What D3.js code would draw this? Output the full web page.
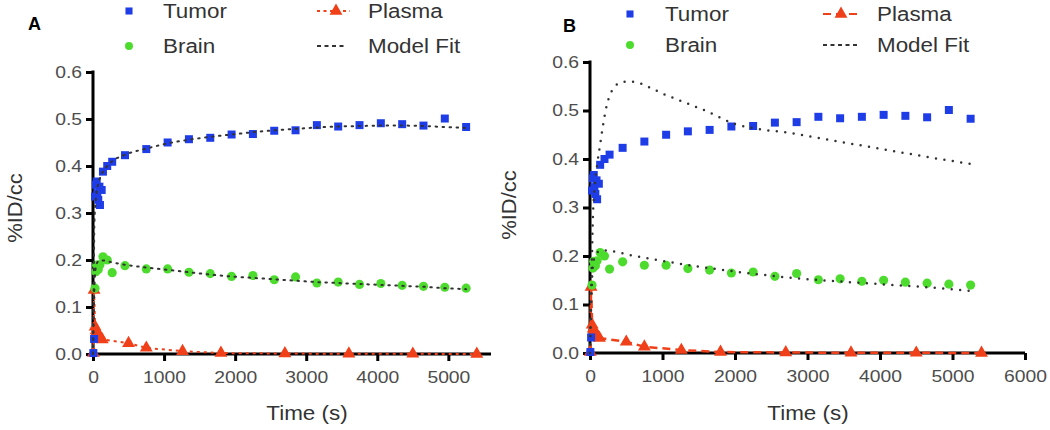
<!DOCTYPE html>
<html>
<head>
<meta charset="utf-8">
<script src="https://cdn.jsdelivr.net/npm/d3@7"></script>
<style>
  html, body { margin: 0; padding: 0; background: #fff; }
  svg text { font-family: "Liberation Sans", Arial, Helvetica, sans-serif; }
</style>
</head>
<body>
<svg id="chart" width="1050" height="430"></svg>
<script>
// ---------- data (shared measurements) ----------
const tumorTime   = [5, 15, 28, 40, 52, 60, 74, 90, 98, 122, 140, 200, 270, 450, 750, 1050, 1350, 1650, 1950, 2250, 2550, 2850, 3150, 3450, 3750, 4050, 4350, 4650, 4950, 5250];
const tumorValues = [0.002, 0.032, 0.335, 0.36, 0.367, 0.342, 0.328, 0.356, 0.317, 0.349, 0.388, 0.4, 0.409, 0.423, 0.436, 0.45, 0.457, 0.46, 0.467, 0.468, 0.475, 0.476, 0.487, 0.484, 0.487, 0.491, 0.489, 0.486, 0.501, 0.483];

const brainTime   = [28, 40, 52, 74, 98, 140, 200, 270, 450, 750, 1050, 1350, 1650, 1950, 2250, 2550, 2850, 3150, 3450, 3750, 4050, 4350, 4650, 4950, 5250];
const brainValues = [0.14, 0.175, 0.189, 0.18, 0.19, 0.207, 0.2, 0.173, 0.188, 0.181, 0.181, 0.174, 0.171, 0.165, 0.167, 0.158, 0.164, 0.151, 0.153, 0.148, 0.15, 0.146, 0.144, 0.142, 0.14];

const plasmaTime   = [5, 15, 30, 45, 60, 75, 90, 110, 130, 500, 750, 1260, 1800, 2700, 3600, 4500, 5400];
const plasmaValues = [0.002, 0.136, 0.058, 0.05, 0.045, 0.041, 0.038, 0.034, 0.031, 0.023, 0.013, 0.006, 0.002, 0.001, 0.0005, 0.0003, 0.0002];

// model fits, panel A
const fitATime  = [0, 10, 20, 40, 70, 100, 140, 200, 270, 450, 750, 1050, 1350, 1650, 1950, 2250, 2550, 2850, 3150, 3450, 3750, 4050, 4350, 4650, 4950, 5250];
const fitATumor = [0, 0.15, 0.28, 0.33, 0.36, 0.375, 0.388, 0.4, 0.41, 0.424, 0.437, 0.448, 0.456, 0.462, 0.467, 0.472, 0.476, 0.479, 0.482, 0.484, 0.485, 0.486, 0.486, 0.485, 0.483, 0.481];
const fitABrain = [0, 0.08, 0.14, 0.185, 0.197, 0.199, 0.199, 0.197, 0.195, 0.19, 0.184, 0.179, 0.174, 0.169, 0.165, 0.162, 0.159, 0.156, 0.153, 0.151, 0.149, 0.147, 0.145, 0.143, 0.14, 0.138];

// model fits, panel B
const fitBTime  = [0, 20, 40, 70, 100, 140, 180, 230, 300, 400, 520, 650, 800, 1000, 1200, 1400, 1600, 1800, 2000, 2200, 2400, 2700, 3200, 3700, 4200, 4700, 5250];
const fitBTumor = [0, 0.15, 0.28, 0.35, 0.39, 0.43, 0.47, 0.51, 0.54, 0.556, 0.56, 0.558, 0.549, 0.535, 0.523, 0.511, 0.499, 0.485, 0.472, 0.465, 0.46, 0.455, 0.442, 0.429, 0.416, 0.403, 0.39];
const fitBBrain = [0, 0.12, 0.18, 0.2, 0.207, 0.211, 0.212, 0.211, 0.21, 0.207, 0.203, 0.199, 0.195, 0.19, 0.185, 0.18, 0.176, 0.172, 0.168, 0.164, 0.161, 0.156, 0.15, 0.145, 0.14, 0.135, 0.128];

const yTicks  = [0, 0.1, 0.2, 0.3, 0.4, 0.5, 0.6];
const xTicksA = [0, 1000, 2000, 3000, 4000, 5000];
const xTicksB = [0, 1000, 2000, 3000, 4000, 5000, 6000];
const legendLabels = ["Tumor", "Brain", "Plasma", "Model Fit"];

// ---------- styling ----------
const C = { tumor: "#1f3de6", brain: "#4ddc2e", plasma: "#f0401a", fit: "#333333", tick: "#4d4d4d", label: "#333333" };

const svg = d3.select("#chart");
svg.append("rect").attr("width", 1050).attr("height", 430).attr("fill", "#fff");

function stretch(sel, k) {
  sel.each(function() {
    const w = this.getComputedTextLength();
    this.setAttribute("textLength", w * k);
    this.setAttribute("lengthAdjust", "spacingAndGlyphs");
  });
}

const sq = d3.symbol().type(d3.symbolSquare).size(64);
const ci = d3.symbol().type(d3.symbolCircle).size(66);
const tr = d3.symbol().type(d3.symbolTriangle).size(72);
const sqL = d3.symbol().type(d3.symbolSquare).size(50);
const ciL = d3.symbol().type(d3.symbolCircle).size(50);

function panel(cfg) {
  const x = d3.scaleLinear().domain(cfg.xDomain).range(cfg.xRange);
  const y = d3.scaleLinear().domain([0, 0.6]).range(cfg.yRange);
  const g = svg.append("g");

  // axes
  const ax = g.append("g").attr("transform", `translate(0,${y(0)})`)
    .call(d3.axisBottom(x).tickValues(cfg.xTicks).tickFormat(d3.format("d")).tickSizeOuter(0).tickSize(7).tickPadding(cfg.xPad));
  const ay = g.append("g").attr("transform", `translate(${x(0)},0)`)
    .call(d3.axisLeft(y).tickValues(yTicks).tickFormat(d3.format(".1f")).tickSizeOuter(0).tickSize(7).tickPadding(4));
  [ax, ay].forEach(a => {
    a.select(".domain").attr("stroke", "#000").attr("stroke-width", 3);
    a.selectAll(".tick line").attr("stroke", "#000").attr("stroke-width", 3);
    a.selectAll(".tick text").attr("fill", C.tick).style("font-size", "16.5px");
  });
  ax.select(".domain").attr("d", `M${cfg.xRange[0] - 1.5},0H${cfg.xRange[1]}`);
  ay.select(".domain").attr("d", `M0,${y(0.6) - 1.5}V${y(0) + 1.5}`);
  stretch(ax.selectAll(".tick text"), 1.17);
  stretch(ay.selectAll(".tick text"), 1.17);

  // plasma connecting line
  const plasmaPts = plasmaTime.map((t, i) => [t, plasmaValues[i]]);
  const line = d3.line().x(d => x(d[0])).y(d => y(d[1]));
  g.append("path").attr("d", line(plasmaPts)).attr("fill", "none")
    .attr("stroke", C.plasma).attr("stroke-width", cfg.plasmaW).attr("stroke-dasharray", cfg.plasmaDash);

  // markers
  g.selectAll(".pl").data(plasmaPts).join("path")
    .attr("transform", d => `translate(${x(d[0])},${y(d[1])})`).attr("d", tr).attr("fill", C.plasma);
  g.selectAll(".br").data(brainTime.map((t, i) => [t, brainValues[i]])).join("path")
    .attr("transform", d => `translate(${x(d[0])},${y(d[1])})`).attr("d", ci).attr("fill", C.brain);
  g.selectAll(".tu").data(tumorTime.map((t, i) => [t, tumorValues[i]])).join("path")
    .attr("transform", d => `translate(${x(d[0])},${y(d[1])})`).attr("d", sq).attr("fill", C.tumor);

  // model fits
  const fitLine = d3.line().curve(d3.curveMonotoneX).x(d => x(d[0])).y(d => y(d[1]));
  [cfg.fitTumor, cfg.fitBrain].forEach(vals => {
    g.append("path").attr("d", fitLine(cfg.fitTime.map((t, i) => [t, vals[i]])))
      .attr("fill", "none").attr("stroke", C.fit).attr("stroke-width", cfg.fitW)
      .attr("stroke-linecap", "round").attr("stroke-dasharray", cfg.fitDash);
  });

  // axis labels
  const xl = g.append("text").attr("x", cfg.xLabelX).attr("y", 420).attr("text-anchor", "middle")
    .attr("fill", C.label).style("font-size", "20px").text("Time (s)");
  stretch(xl, 1.12);
  const yl = g.append("text").attr("transform", `translate(${cfg.yLabelX},${cfg.yLabelY}) rotate(-90)`)
    .attr("text-anchor", "middle").attr("fill", C.label).style("font-size", "20px").text("%ID/cc");
  stretch(yl, 1.1);

  // panel letter
  g.append("text").attr("x", cfg.letter[0]).attr("y", cfg.letter[1]).attr("fill", "#000")
    .style("font-size", "18px").style("font-weight", "bold").text(cfg.name);

  // legend
  const L = cfg.legend;
  const lg = g.append("g");
  lg.append("path").attr("transform", `translate(${L.mx},${L.y1})`).attr("d", sqL).attr("fill", C.tumor);
  lg.append("path").attr("transform", `translate(${L.mx},${L.y2})`).attr("d", ciL).attr("fill", C.brain);
  lg.append("line").attr("x1", L.lx0).attr("x2", L.lx1).attr("y1", L.y1).attr("y2", L.y1)
    .attr("stroke", C.plasma).attr("stroke-width", 2.2).attr("stroke-dasharray", cfg.legPlasmaDash);
  lg.append("path").attr("transform", `translate(${L.tx},${L.y1})`).attr("d", tr).attr("fill", C.plasma);
  lg.append("line").attr("x1", L.lx0).attr("x2", L.lx1 - 3).attr("y1", L.y2).attr("y2", L.y2)
    .attr("stroke", C.fit).attr("stroke-width", 2.2).attr("stroke-dasharray", "4,3.5");
  const texts = [
    [L.t1, L.y1 + 7, legendLabels[0]], [L.t1, L.y2 + 7, legendLabels[1]],
    [L.t2, L.y1 + 7, legendLabels[2]], [L.t2, L.y2 + 7, legendLabels[3]]
  ];
  texts.forEach(([tx, ty, s]) => {
    const t = lg.append("text").attr("x", tx).attr("y", ty).attr("fill", C.label)
      .style("font-size", "20px").text(s);
    stretch(t, 1.12);
  });
}

panel({
  name: "A", letter: [28, 30],
  xDomain: [0, 5600], xRange: [93, 491], yRange: [354, 72], xTicks: xTicksA, xPad: 10,
  fitTime: fitATime, fitTumor: fitATumor, fitBrain: fitABrain,
  fitW: 2, fitDash: "1.5,5.5", plasmaW: 2, plasmaDash: "3,4", legPlasmaDash: "3,3.5",
  xLabelX: 307, yLabelX: 22, yLabelY: 208,
  legend: { mx: 129, y1: 11, y2: 46, lx0: 317, lx1: 350, tx: 336, t1: 163, t2: 368 }
});

panel({
  name: "B", letter: [563, 32],
  xDomain: [0, 6000], xRange: [590, 1025], yRange: [353, 62], xTicks: xTicksB, xPad: 10,
  fitTime: fitBTime, fitTumor: fitBTumor, fitBrain: fitBBrain,
  fitW: 2.5, fitDash: "0,8.5", plasmaW: 2.5, plasmaDash: "8,5", legPlasmaDash: "8,5",
  xLabelX: 808, yLabelX: 516, yLabelY: 205,
  legend: { mx: 630, y1: 14, y2: 45, lx0: 823, lx1: 860, tx: 841, t1: 665, t2: 877 }
});
</script>
</body>
</html>
